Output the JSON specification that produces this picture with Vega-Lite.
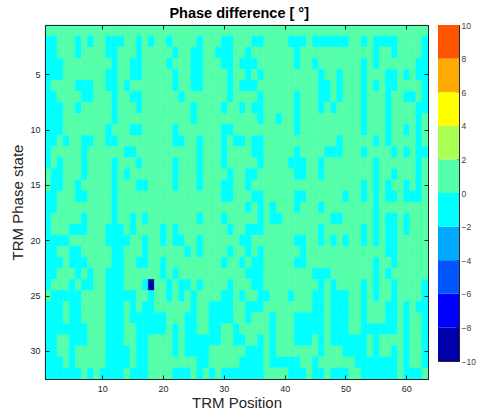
{
"$schema": "https://vega.github.io/schema/vega-lite/v6.json",
"background": "white",
"padding": {"left": 10, "top": 5, "right": 0, "bottom": 0},
"title": {"text": "Phase difference [ °]", "font": "Liberation Sans", "fontSize": 14.5, "fontWeight": "bold", "color": "#000000", "anchor": "middle", "offset": -0.5, "dx": -4},
"datasets": {
"bar": [{"lo":-10,"hi":-8,"v":-9},{"lo":-8,"hi":-6,"v":-7},{"lo":-6,"hi":-4,"v":-5},{"lo":-4,"hi":-2,"v":-3},{"lo":-2,"hi":0,"v":-1},{"lo":0,"hi":2,"v":1},{"lo":2,"hi":4,"v":3},{"lo":4,"hi":6,"v":5},{"lo":6,"hi":8,"v":7},{"lo":8,"hi":10,"v":9}],
"cells": [
{"x":1,"y":1,"v":1},{"x":2,"y":1,"v":1},{"x":3,"y":1,"v":1},{"x":4,"y":1,"v":1},{"x":5,"y":1,"v":1},{"x":6,"y":1,"v":1},{"x":7,"y":1,"v":1},{"x":8,"y":1,"v":1},{"x":9,"y":1,"v":1},{"x":10,"y":1,"v":1},{"x":11,"y":1,"v":1},{"x":12,"y":1,"v":1},{"x":13,"y":1,"v":1},{"x":14,"y":1,"v":1},{"x":15,"y":1,"v":1},{"x":16,"y":1,"v":1},{"x":17,"y":1,"v":1},{"x":18,"y":1,"v":1},{"x":19,"y":1,"v":1},{"x":20,"y":1,"v":1},{"x":21,"y":1,"v":1},{"x":22,"y":1,"v":1},{"x":23,"y":1,"v":1},{"x":24,"y":1,"v":1},{"x":25,"y":1,"v":1},{"x":26,"y":1,"v":1},{"x":27,"y":1,"v":1},{"x":28,"y":1,"v":1},{"x":29,"y":1,"v":1},{"x":30,"y":1,"v":1},{"x":31,"y":1,"v":1},{"x":32,"y":1,"v":1},{"x":33,"y":1,"v":1},{"x":34,"y":1,"v":1},{"x":35,"y":1,"v":1},{"x":36,"y":1,"v":1},{"x":37,"y":1,"v":1},{"x":38,"y":1,"v":1},{"x":39,"y":1,"v":1},{"x":40,"y":1,"v":1},{"x":41,"y":1,"v":1},{"x":42,"y":1,"v":1},{"x":43,"y":1,"v":1},{"x":44,"y":1,"v":1},{"x":45,"y":1,"v":1},{"x":46,"y":1,"v":1},{"x":47,"y":1,"v":1},{"x":48,"y":1,"v":1},{"x":49,"y":1,"v":1},{"x":50,"y":1,"v":1},{"x":51,"y":1,"v":1},{"x":52,"y":1,"v":1},{"x":53,"y":1,"v":1},{"x":54,"y":1,"v":1},{"x":55,"y":1,"v":1},{"x":56,"y":1,"v":1},{"x":57,"y":1,"v":1},{"x":58,"y":1,"v":1},{"x":59,"y":1,"v":1},{"x":60,"y":1,"v":1},{"x":61,"y":1,"v":1},{"x":62,"y":1,"v":1},{"x":63,"y":1,"v":1},
{"x":1,"y":2,"v":-1},{"x":2,"y":2,"v":-1},{"x":3,"y":2,"v":1},{"x":4,"y":2,"v":1},{"x":5,"y":2,"v":1},{"x":6,"y":2,"v":-1},{"x":7,"y":2,"v":1},{"x":8,"y":2,"v":-1},{"x":9,"y":2,"v":1},{"x":10,"y":2,"v":1},{"x":11,"y":2,"v":-1},{"x":12,"y":2,"v":-1},{"x":13,"y":2,"v":-1},{"x":14,"y":2,"v":1},{"x":15,"y":2,"v":1},{"x":16,"y":2,"v":-1},{"x":17,"y":2,"v":1},{"x":18,"y":2,"v":-1},{"x":19,"y":2,"v":1},{"x":20,"y":2,"v":1},{"x":21,"y":2,"v":-1},{"x":22,"y":2,"v":1},{"x":23,"y":2,"v":1},{"x":24,"y":2,"v":1},{"x":25,"y":2,"v":1},{"x":26,"y":2,"v":-1},{"x":27,"y":2,"v":1},{"x":28,"y":2,"v":1},{"x":29,"y":2,"v":1},{"x":30,"y":2,"v":-1},{"x":31,"y":2,"v":-1},{"x":32,"y":2,"v":1},{"x":33,"y":2,"v":1},{"x":34,"y":2,"v":1},{"x":35,"y":2,"v":-1},{"x":36,"y":2,"v":-1},{"x":37,"y":2,"v":1},{"x":38,"y":2,"v":1},{"x":39,"y":2,"v":1},{"x":40,"y":2,"v":1},{"x":41,"y":2,"v":-1},{"x":42,"y":2,"v":-1},{"x":43,"y":2,"v":-1},{"x":44,"y":2,"v":1},{"x":45,"y":2,"v":-1},{"x":46,"y":2,"v":-1},{"x":47,"y":2,"v":-1},{"x":48,"y":2,"v":-1},{"x":49,"y":2,"v":-1},{"x":50,"y":2,"v":-1},{"x":51,"y":2,"v":1},{"x":52,"y":2,"v":1},{"x":53,"y":2,"v":-1},{"x":54,"y":2,"v":1},{"x":55,"y":2,"v":-1},{"x":56,"y":2,"v":-1},{"x":57,"y":2,"v":-1},{"x":58,"y":2,"v":-1},{"x":59,"y":2,"v":1},{"x":60,"y":2,"v":1},{"x":61,"y":2,"v":1},{"x":62,"y":2,"v":1},{"x":63,"y":2,"v":-1},
{"x":1,"y":3,"v":-1},{"x":2,"y":3,"v":-1},{"x":3,"y":3,"v":1},{"x":4,"y":3,"v":1},{"x":5,"y":3,"v":1},{"x":6,"y":3,"v":-1},{"x":7,"y":3,"v":1},{"x":8,"y":3,"v":1},{"x":9,"y":3,"v":1},{"x":10,"y":3,"v":1},{"x":11,"y":3,"v":-1},{"x":12,"y":3,"v":-1},{"x":13,"y":3,"v":1},{"x":14,"y":3,"v":1},{"x":15,"y":3,"v":1},{"x":16,"y":3,"v":-1},{"x":17,"y":3,"v":1},{"x":18,"y":3,"v":1},{"x":19,"y":3,"v":1},{"x":20,"y":3,"v":1},{"x":21,"y":3,"v":1},{"x":22,"y":3,"v":-1},{"x":23,"y":3,"v":1},{"x":24,"y":3,"v":1},{"x":25,"y":3,"v":-1},{"x":26,"y":3,"v":-1},{"x":27,"y":3,"v":1},{"x":28,"y":3,"v":1},{"x":29,"y":3,"v":-1},{"x":30,"y":3,"v":-1},{"x":31,"y":3,"v":-1},{"x":32,"y":3,"v":1},{"x":33,"y":3,"v":1},{"x":34,"y":3,"v":-1},{"x":35,"y":3,"v":1},{"x":36,"y":3,"v":1},{"x":37,"y":3,"v":1},{"x":38,"y":3,"v":1},{"x":39,"y":3,"v":1},{"x":40,"y":3,"v":1},{"x":41,"y":3,"v":1},{"x":42,"y":3,"v":-1},{"x":43,"y":3,"v":1},{"x":44,"y":3,"v":1},{"x":45,"y":3,"v":1},{"x":46,"y":3,"v":1},{"x":47,"y":3,"v":1},{"x":48,"y":3,"v":1},{"x":49,"y":3,"v":1},{"x":50,"y":3,"v":1},{"x":51,"y":3,"v":1},{"x":52,"y":3,"v":1},{"x":53,"y":3,"v":1},{"x":54,"y":3,"v":1},{"x":55,"y":3,"v":-1},{"x":56,"y":3,"v":1},{"x":57,"y":3,"v":1},{"x":58,"y":3,"v":-1},{"x":59,"y":3,"v":1},{"x":60,"y":3,"v":1},{"x":61,"y":3,"v":1},{"x":62,"y":3,"v":1},{"x":63,"y":3,"v":-1},
{"x":1,"y":4,"v":-1},{"x":2,"y":4,"v":-1},{"x":3,"y":4,"v":-1},{"x":4,"y":4,"v":1},{"x":5,"y":4,"v":1},{"x":6,"y":4,"v":1},{"x":7,"y":4,"v":1},{"x":8,"y":4,"v":1},{"x":9,"y":4,"v":1},{"x":10,"y":4,"v":1},{"x":11,"y":4,"v":1},{"x":12,"y":4,"v":-1},{"x":13,"y":4,"v":1},{"x":14,"y":4,"v":1},{"x":15,"y":4,"v":-1},{"x":16,"y":4,"v":-1},{"x":17,"y":4,"v":1},{"x":18,"y":4,"v":1},{"x":19,"y":4,"v":1},{"x":20,"y":4,"v":1},{"x":21,"y":4,"v":-1},{"x":22,"y":4,"v":1},{"x":23,"y":4,"v":1},{"x":24,"y":4,"v":1},{"x":25,"y":4,"v":-1},{"x":26,"y":4,"v":-1},{"x":27,"y":4,"v":1},{"x":28,"y":4,"v":1},{"x":29,"y":4,"v":1},{"x":30,"y":4,"v":-1},{"x":31,"y":4,"v":-1},{"x":32,"y":4,"v":1},{"x":33,"y":4,"v":-1},{"x":34,"y":4,"v":-1},{"x":35,"y":4,"v":-1},{"x":36,"y":4,"v":1},{"x":37,"y":4,"v":1},{"x":38,"y":4,"v":1},{"x":39,"y":4,"v":1},{"x":40,"y":4,"v":1},{"x":41,"y":4,"v":1},{"x":42,"y":4,"v":-1},{"x":43,"y":4,"v":1},{"x":44,"y":4,"v":1},{"x":45,"y":4,"v":-1},{"x":46,"y":4,"v":1},{"x":47,"y":4,"v":1},{"x":48,"y":4,"v":1},{"x":49,"y":4,"v":1},{"x":50,"y":4,"v":1},{"x":51,"y":4,"v":1},{"x":52,"y":4,"v":1},{"x":53,"y":4,"v":-1},{"x":54,"y":4,"v":1},{"x":55,"y":4,"v":-1},{"x":56,"y":4,"v":1},{"x":57,"y":4,"v":1},{"x":58,"y":4,"v":1},{"x":59,"y":4,"v":1},{"x":60,"y":4,"v":1},{"x":61,"y":4,"v":1},{"x":62,"y":4,"v":-1},{"x":63,"y":4,"v":-1},
{"x":1,"y":5,"v":-1},{"x":2,"y":5,"v":-1},{"x":3,"y":5,"v":-1},{"x":4,"y":5,"v":1},{"x":5,"y":5,"v":1},{"x":6,"y":5,"v":1},{"x":7,"y":5,"v":1},{"x":8,"y":5,"v":1},{"x":9,"y":5,"v":1},{"x":10,"y":5,"v":1},{"x":11,"y":5,"v":-1},{"x":12,"y":5,"v":-1},{"x":13,"y":5,"v":1},{"x":14,"y":5,"v":1},{"x":15,"y":5,"v":-1},{"x":16,"y":5,"v":-1},{"x":17,"y":5,"v":1},{"x":18,"y":5,"v":1},{"x":19,"y":5,"v":1},{"x":20,"y":5,"v":1},{"x":21,"y":5,"v":1},{"x":22,"y":5,"v":-1},{"x":23,"y":5,"v":1},{"x":24,"y":5,"v":1},{"x":25,"y":5,"v":-1},{"x":26,"y":5,"v":-1},{"x":27,"y":5,"v":1},{"x":28,"y":5,"v":1},{"x":29,"y":5,"v":1},{"x":30,"y":5,"v":1},{"x":31,"y":5,"v":-1},{"x":32,"y":5,"v":1},{"x":33,"y":5,"v":1},{"x":34,"y":5,"v":-1},{"x":35,"y":5,"v":1},{"x":36,"y":5,"v":-1},{"x":37,"y":5,"v":1},{"x":38,"y":5,"v":1},{"x":39,"y":5,"v":1},{"x":40,"y":5,"v":1},{"x":41,"y":5,"v":1},{"x":42,"y":5,"v":1},{"x":43,"y":5,"v":1},{"x":44,"y":5,"v":1},{"x":45,"y":5,"v":1},{"x":46,"y":5,"v":-1},{"x":47,"y":5,"v":1},{"x":48,"y":5,"v":1},{"x":49,"y":5,"v":-1},{"x":50,"y":5,"v":1},{"x":51,"y":5,"v":1},{"x":52,"y":5,"v":1},{"x":53,"y":5,"v":-1},{"x":54,"y":5,"v":1},{"x":55,"y":5,"v":1},{"x":56,"y":5,"v":1},{"x":57,"y":5,"v":-1},{"x":58,"y":5,"v":-1},{"x":59,"y":5,"v":1},{"x":60,"y":5,"v":-1},{"x":61,"y":5,"v":1},{"x":62,"y":5,"v":-1},{"x":63,"y":5,"v":-1},
{"x":1,"y":6,"v":-1},{"x":2,"y":6,"v":1},{"x":3,"y":6,"v":1},{"x":4,"y":6,"v":1},{"x":5,"y":6,"v":1},{"x":6,"y":6,"v":-1},{"x":7,"y":6,"v":-1},{"x":8,"y":6,"v":-1},{"x":9,"y":6,"v":1},{"x":10,"y":6,"v":1},{"x":11,"y":6,"v":-1},{"x":12,"y":6,"v":-1},{"x":13,"y":6,"v":1},{"x":14,"y":6,"v":-1},{"x":15,"y":6,"v":1},{"x":16,"y":6,"v":1},{"x":17,"y":6,"v":1},{"x":18,"y":6,"v":1},{"x":19,"y":6,"v":1},{"x":20,"y":6,"v":1},{"x":21,"y":6,"v":1},{"x":22,"y":6,"v":-1},{"x":23,"y":6,"v":1},{"x":24,"y":6,"v":1},{"x":25,"y":6,"v":-1},{"x":26,"y":6,"v":-1},{"x":27,"y":6,"v":1},{"x":28,"y":6,"v":1},{"x":29,"y":6,"v":1},{"x":30,"y":6,"v":1},{"x":31,"y":6,"v":-1},{"x":32,"y":6,"v":1},{"x":33,"y":6,"v":-1},{"x":34,"y":6,"v":-1},{"x":35,"y":6,"v":-1},{"x":36,"y":6,"v":1},{"x":37,"y":6,"v":1},{"x":38,"y":6,"v":1},{"x":39,"y":6,"v":1},{"x":40,"y":6,"v":1},{"x":41,"y":6,"v":1},{"x":42,"y":6,"v":1},{"x":43,"y":6,"v":1},{"x":44,"y":6,"v":1},{"x":45,"y":6,"v":1},{"x":46,"y":6,"v":-1},{"x":47,"y":6,"v":-1},{"x":48,"y":6,"v":1},{"x":49,"y":6,"v":-1},{"x":50,"y":6,"v":1},{"x":51,"y":6,"v":1},{"x":52,"y":6,"v":1},{"x":53,"y":6,"v":-1},{"x":54,"y":6,"v":1},{"x":55,"y":6,"v":-1},{"x":56,"y":6,"v":1},{"x":57,"y":6,"v":-1},{"x":58,"y":6,"v":-1},{"x":59,"y":6,"v":1},{"x":60,"y":6,"v":1},{"x":61,"y":6,"v":1},{"x":62,"y":6,"v":1},{"x":63,"y":6,"v":-1},
{"x":1,"y":7,"v":-1},{"x":2,"y":7,"v":-1},{"x":3,"y":7,"v":1},{"x":4,"y":7,"v":1},{"x":5,"y":7,"v":1},{"x":6,"y":7,"v":1},{"x":7,"y":7,"v":-1},{"x":8,"y":7,"v":-1},{"x":9,"y":7,"v":1},{"x":10,"y":7,"v":1},{"x":11,"y":7,"v":1},{"x":12,"y":7,"v":-1},{"x":13,"y":7,"v":1},{"x":14,"y":7,"v":1},{"x":15,"y":7,"v":-1},{"x":16,"y":7,"v":-1},{"x":17,"y":7,"v":1},{"x":18,"y":7,"v":1},{"x":19,"y":7,"v":1},{"x":20,"y":7,"v":1},{"x":21,"y":7,"v":1},{"x":22,"y":7,"v":1},{"x":23,"y":7,"v":-1},{"x":24,"y":7,"v":1},{"x":25,"y":7,"v":1},{"x":26,"y":7,"v":1},{"x":27,"y":7,"v":1},{"x":28,"y":7,"v":1},{"x":29,"y":7,"v":1},{"x":30,"y":7,"v":1},{"x":31,"y":7,"v":-1},{"x":32,"y":7,"v":1},{"x":33,"y":7,"v":1},{"x":34,"y":7,"v":1},{"x":35,"y":7,"v":1},{"x":36,"y":7,"v":-1},{"x":37,"y":7,"v":1},{"x":38,"y":7,"v":1},{"x":39,"y":7,"v":1},{"x":40,"y":7,"v":1},{"x":41,"y":7,"v":1},{"x":42,"y":7,"v":-1},{"x":43,"y":7,"v":1},{"x":44,"y":7,"v":1},{"x":45,"y":7,"v":1},{"x":46,"y":7,"v":-1},{"x":47,"y":7,"v":-1},{"x":48,"y":7,"v":1},{"x":49,"y":7,"v":-1},{"x":50,"y":7,"v":1},{"x":51,"y":7,"v":1},{"x":52,"y":7,"v":1},{"x":53,"y":7,"v":-1},{"x":54,"y":7,"v":1},{"x":55,"y":7,"v":1},{"x":56,"y":7,"v":1},{"x":57,"y":7,"v":-1},{"x":58,"y":7,"v":1},{"x":59,"y":7,"v":1},{"x":60,"y":7,"v":-1},{"x":61,"y":7,"v":-1},{"x":62,"y":7,"v":1},{"x":63,"y":7,"v":-1},
{"x":1,"y":8,"v":-1},{"x":2,"y":8,"v":-1},{"x":3,"y":8,"v":-1},{"x":4,"y":8,"v":1},{"x":5,"y":8,"v":1},{"x":6,"y":8,"v":-1},{"x":7,"y":8,"v":1},{"x":8,"y":8,"v":1},{"x":9,"y":8,"v":1},{"x":10,"y":8,"v":1},{"x":11,"y":8,"v":1},{"x":12,"y":8,"v":-1},{"x":13,"y":8,"v":1},{"x":14,"y":8,"v":1},{"x":15,"y":8,"v":1},{"x":16,"y":8,"v":-1},{"x":17,"y":8,"v":1},{"x":18,"y":8,"v":1},{"x":19,"y":8,"v":1},{"x":20,"y":8,"v":1},{"x":21,"y":8,"v":1},{"x":22,"y":8,"v":1},{"x":23,"y":8,"v":1},{"x":24,"y":8,"v":1},{"x":25,"y":8,"v":-1},{"x":26,"y":8,"v":1},{"x":27,"y":8,"v":1},{"x":28,"y":8,"v":1},{"x":29,"y":8,"v":1},{"x":30,"y":8,"v":-1},{"x":31,"y":8,"v":1},{"x":32,"y":8,"v":1},{"x":33,"y":8,"v":-1},{"x":34,"y":8,"v":1},{"x":35,"y":8,"v":-1},{"x":36,"y":8,"v":-1},{"x":37,"y":8,"v":1},{"x":38,"y":8,"v":1},{"x":39,"y":8,"v":1},{"x":40,"y":8,"v":1},{"x":41,"y":8,"v":1},{"x":42,"y":8,"v":-1},{"x":43,"y":8,"v":1},{"x":44,"y":8,"v":1},{"x":45,"y":8,"v":1},{"x":46,"y":8,"v":-1},{"x":47,"y":8,"v":1},{"x":48,"y":8,"v":-1},{"x":49,"y":8,"v":1},{"x":50,"y":8,"v":1},{"x":51,"y":8,"v":1},{"x":52,"y":8,"v":1},{"x":53,"y":8,"v":-1},{"x":54,"y":8,"v":1},{"x":55,"y":8,"v":1},{"x":56,"y":8,"v":1},{"x":57,"y":8,"v":-1},{"x":58,"y":8,"v":1},{"x":59,"y":8,"v":1},{"x":60,"y":8,"v":1},{"x":61,"y":8,"v":1},{"x":62,"y":8,"v":-1},{"x":63,"y":8,"v":-1},
{"x":1,"y":9,"v":-1},{"x":2,"y":9,"v":-1},{"x":3,"y":9,"v":-1},{"x":4,"y":9,"v":1},{"x":5,"y":9,"v":1},{"x":6,"y":9,"v":1},{"x":7,"y":9,"v":1},{"x":8,"y":9,"v":1},{"x":9,"y":9,"v":1},{"x":10,"y":9,"v":1},{"x":11,"y":9,"v":1},{"x":12,"y":9,"v":-1},{"x":13,"y":9,"v":1},{"x":14,"y":9,"v":1},{"x":15,"y":9,"v":1},{"x":16,"y":9,"v":1},{"x":17,"y":9,"v":1},{"x":18,"y":9,"v":1},{"x":19,"y":9,"v":1},{"x":20,"y":9,"v":1},{"x":21,"y":9,"v":1},{"x":22,"y":9,"v":1},{"x":23,"y":9,"v":1},{"x":24,"y":9,"v":1},{"x":25,"y":9,"v":-1},{"x":26,"y":9,"v":1},{"x":27,"y":9,"v":1},{"x":28,"y":9,"v":1},{"x":29,"y":9,"v":1},{"x":30,"y":9,"v":1},{"x":31,"y":9,"v":1},{"x":32,"y":9,"v":1},{"x":33,"y":9,"v":1},{"x":34,"y":9,"v":1},{"x":35,"y":9,"v":1},{"x":36,"y":9,"v":-1},{"x":37,"y":9,"v":1},{"x":38,"y":9,"v":1},{"x":39,"y":9,"v":-1},{"x":40,"y":9,"v":1},{"x":41,"y":9,"v":1},{"x":42,"y":9,"v":-1},{"x":43,"y":9,"v":1},{"x":44,"y":9,"v":1},{"x":45,"y":9,"v":1},{"x":46,"y":9,"v":1},{"x":47,"y":9,"v":1},{"x":48,"y":9,"v":1},{"x":49,"y":9,"v":1},{"x":50,"y":9,"v":1},{"x":51,"y":9,"v":1},{"x":52,"y":9,"v":1},{"x":53,"y":9,"v":-1},{"x":54,"y":9,"v":1},{"x":55,"y":9,"v":1},{"x":56,"y":9,"v":1},{"x":57,"y":9,"v":-1},{"x":58,"y":9,"v":1},{"x":59,"y":9,"v":1},{"x":60,"y":9,"v":1},{"x":61,"y":9,"v":1},{"x":62,"y":9,"v":-1},{"x":63,"y":9,"v":1},
{"x":1,"y":10,"v":-1},{"x":2,"y":10,"v":-1},{"x":3,"y":10,"v":-1},{"x":4,"y":10,"v":1},{"x":5,"y":10,"v":1},{"x":6,"y":10,"v":1},{"x":7,"y":10,"v":1},{"x":8,"y":10,"v":1},{"x":9,"y":10,"v":1},{"x":10,"y":10,"v":1},{"x":11,"y":10,"v":-1},{"x":12,"y":10,"v":1},{"x":13,"y":10,"v":1},{"x":14,"y":10,"v":1},{"x":15,"y":10,"v":-1},{"x":16,"y":10,"v":-1},{"x":17,"y":10,"v":1},{"x":18,"y":10,"v":1},{"x":19,"y":10,"v":1},{"x":20,"y":10,"v":1},{"x":21,"y":10,"v":1},{"x":22,"y":10,"v":-1},{"x":23,"y":10,"v":1},{"x":24,"y":10,"v":1},{"x":25,"y":10,"v":1},{"x":26,"y":10,"v":1},{"x":27,"y":10,"v":1},{"x":28,"y":10,"v":1},{"x":29,"y":10,"v":1},{"x":30,"y":10,"v":-1},{"x":31,"y":10,"v":-1},{"x":32,"y":10,"v":1},{"x":33,"y":10,"v":1},{"x":34,"y":10,"v":1},{"x":35,"y":10,"v":1},{"x":36,"y":10,"v":1},{"x":37,"y":10,"v":1},{"x":38,"y":10,"v":1},{"x":39,"y":10,"v":1},{"x":40,"y":10,"v":1},{"x":41,"y":10,"v":1},{"x":42,"y":10,"v":-1},{"x":43,"y":10,"v":1},{"x":44,"y":10,"v":1},{"x":45,"y":10,"v":1},{"x":46,"y":10,"v":1},{"x":47,"y":10,"v":1},{"x":48,"y":10,"v":1},{"x":49,"y":10,"v":1},{"x":50,"y":10,"v":1},{"x":51,"y":10,"v":1},{"x":52,"y":10,"v":1},{"x":53,"y":10,"v":-1},{"x":54,"y":10,"v":1},{"x":55,"y":10,"v":1},{"x":56,"y":10,"v":1},{"x":57,"y":10,"v":-1},{"x":58,"y":10,"v":1},{"x":59,"y":10,"v":1},{"x":60,"y":10,"v":-1},{"x":61,"y":10,"v":1},{"x":62,"y":10,"v":-1},{"x":63,"y":10,"v":1},
{"x":1,"y":11,"v":-1},{"x":2,"y":11,"v":-1},{"x":3,"y":11,"v":1},{"x":4,"y":11,"v":-1},{"x":5,"y":11,"v":1},{"x":6,"y":11,"v":1},{"x":7,"y":11,"v":-1},{"x":8,"y":11,"v":-1},{"x":9,"y":11,"v":1},{"x":10,"y":11,"v":1},{"x":11,"y":11,"v":-1},{"x":12,"y":11,"v":-1},{"x":13,"y":11,"v":1},{"x":14,"y":11,"v":1},{"x":15,"y":11,"v":1},{"x":16,"y":11,"v":1},{"x":17,"y":11,"v":1},{"x":18,"y":11,"v":1},{"x":19,"y":11,"v":1},{"x":20,"y":11,"v":1},{"x":21,"y":11,"v":1},{"x":22,"y":11,"v":-1},{"x":23,"y":11,"v":-1},{"x":24,"y":11,"v":1},{"x":25,"y":11,"v":1},{"x":26,"y":11,"v":-1},{"x":27,"y":11,"v":1},{"x":28,"y":11,"v":1},{"x":29,"y":11,"v":1},{"x":30,"y":11,"v":-1},{"x":31,"y":11,"v":1},{"x":32,"y":11,"v":-1},{"x":33,"y":11,"v":-1},{"x":34,"y":11,"v":1},{"x":35,"y":11,"v":-1},{"x":36,"y":11,"v":-1},{"x":37,"y":11,"v":1},{"x":38,"y":11,"v":1},{"x":39,"y":11,"v":1},{"x":40,"y":11,"v":1},{"x":41,"y":11,"v":1},{"x":42,"y":11,"v":1},{"x":43,"y":11,"v":1},{"x":44,"y":11,"v":1},{"x":45,"y":11,"v":1},{"x":46,"y":11,"v":1},{"x":47,"y":11,"v":1},{"x":48,"y":11,"v":1},{"x":49,"y":11,"v":-1},{"x":50,"y":11,"v":1},{"x":51,"y":11,"v":1},{"x":52,"y":11,"v":1},{"x":53,"y":11,"v":1},{"x":54,"y":11,"v":1},{"x":55,"y":11,"v":-1},{"x":56,"y":11,"v":1},{"x":57,"y":11,"v":-1},{"x":58,"y":11,"v":1},{"x":59,"y":11,"v":1},{"x":60,"y":11,"v":1},{"x":61,"y":11,"v":1},{"x":62,"y":11,"v":-1},{"x":63,"y":11,"v":1},
{"x":1,"y":12,"v":-1},{"x":2,"y":12,"v":1},{"x":3,"y":12,"v":1},{"x":4,"y":12,"v":1},{"x":5,"y":12,"v":1},{"x":6,"y":12,"v":1},{"x":7,"y":12,"v":-1},{"x":8,"y":12,"v":1},{"x":9,"y":12,"v":1},{"x":10,"y":12,"v":1},{"x":11,"y":12,"v":1},{"x":12,"y":12,"v":1},{"x":13,"y":12,"v":1},{"x":14,"y":12,"v":-1},{"x":15,"y":12,"v":-1},{"x":16,"y":12,"v":1},{"x":17,"y":12,"v":1},{"x":18,"y":12,"v":1},{"x":19,"y":12,"v":1},{"x":20,"y":12,"v":1},{"x":21,"y":12,"v":1},{"x":22,"y":12,"v":1},{"x":23,"y":12,"v":1},{"x":24,"y":12,"v":1},{"x":25,"y":12,"v":1},{"x":26,"y":12,"v":-1},{"x":27,"y":12,"v":1},{"x":28,"y":12,"v":1},{"x":29,"y":12,"v":1},{"x":30,"y":12,"v":-1},{"x":31,"y":12,"v":1},{"x":32,"y":12,"v":1},{"x":33,"y":12,"v":1},{"x":34,"y":12,"v":1},{"x":35,"y":12,"v":-1},{"x":36,"y":12,"v":-1},{"x":37,"y":12,"v":1},{"x":38,"y":12,"v":1},{"x":39,"y":12,"v":1},{"x":40,"y":12,"v":1},{"x":41,"y":12,"v":1},{"x":42,"y":12,"v":-1},{"x":43,"y":12,"v":1},{"x":44,"y":12,"v":1},{"x":45,"y":12,"v":1},{"x":46,"y":12,"v":1},{"x":47,"y":12,"v":-1},{"x":48,"y":12,"v":-1},{"x":49,"y":12,"v":-1},{"x":50,"y":12,"v":1},{"x":51,"y":12,"v":1},{"x":52,"y":12,"v":1},{"x":53,"y":12,"v":-1},{"x":54,"y":12,"v":1},{"x":55,"y":12,"v":1},{"x":56,"y":12,"v":1},{"x":57,"y":12,"v":1},{"x":58,"y":12,"v":-1},{"x":59,"y":12,"v":1},{"x":60,"y":12,"v":-1},{"x":61,"y":12,"v":1},{"x":62,"y":12,"v":-1},{"x":63,"y":12,"v":-1},
{"x":1,"y":13,"v":-1},{"x":2,"y":13,"v":1},{"x":3,"y":13,"v":-1},{"x":4,"y":13,"v":1},{"x":5,"y":13,"v":1},{"x":6,"y":13,"v":1},{"x":7,"y":13,"v":-1},{"x":8,"y":13,"v":1},{"x":9,"y":13,"v":1},{"x":10,"y":13,"v":1},{"x":11,"y":13,"v":1},{"x":12,"y":13,"v":-1},{"x":13,"y":13,"v":1},{"x":14,"y":13,"v":1},{"x":15,"y":13,"v":1},{"x":16,"y":13,"v":-1},{"x":17,"y":13,"v":1},{"x":18,"y":13,"v":1},{"x":19,"y":13,"v":1},{"x":20,"y":13,"v":1},{"x":21,"y":13,"v":1},{"x":22,"y":13,"v":-1},{"x":23,"y":13,"v":1},{"x":24,"y":13,"v":1},{"x":25,"y":13,"v":1},{"x":26,"y":13,"v":-1},{"x":27,"y":13,"v":1},{"x":28,"y":13,"v":1},{"x":29,"y":13,"v":1},{"x":30,"y":13,"v":-1},{"x":31,"y":13,"v":1},{"x":32,"y":13,"v":1},{"x":33,"y":13,"v":1},{"x":34,"y":13,"v":1},{"x":35,"y":13,"v":1},{"x":36,"y":13,"v":-1},{"x":37,"y":13,"v":1},{"x":38,"y":13,"v":1},{"x":39,"y":13,"v":1},{"x":40,"y":13,"v":1},{"x":41,"y":13,"v":-1},{"x":42,"y":13,"v":-1},{"x":43,"y":13,"v":-1},{"x":44,"y":13,"v":1},{"x":45,"y":13,"v":1},{"x":46,"y":13,"v":-1},{"x":47,"y":13,"v":1},{"x":48,"y":13,"v":1},{"x":49,"y":13,"v":1},{"x":50,"y":13,"v":1},{"x":51,"y":13,"v":1},{"x":52,"y":13,"v":1},{"x":53,"y":13,"v":1},{"x":54,"y":13,"v":1},{"x":55,"y":13,"v":-1},{"x":56,"y":13,"v":1},{"x":57,"y":13,"v":1},{"x":58,"y":13,"v":1},{"x":59,"y":13,"v":1},{"x":60,"y":13,"v":1},{"x":61,"y":13,"v":1},{"x":62,"y":13,"v":-1},{"x":63,"y":13,"v":1},
{"x":1,"y":14,"v":1},{"x":2,"y":14,"v":-1},{"x":3,"y":14,"v":-1},{"x":4,"y":14,"v":1},{"x":5,"y":14,"v":1},{"x":6,"y":14,"v":1},{"x":7,"y":14,"v":-1},{"x":8,"y":14,"v":1},{"x":9,"y":14,"v":1},{"x":10,"y":14,"v":1},{"x":11,"y":14,"v":1},{"x":12,"y":14,"v":-1},{"x":13,"y":14,"v":1},{"x":14,"y":14,"v":-1},{"x":15,"y":14,"v":1},{"x":16,"y":14,"v":1},{"x":17,"y":14,"v":1},{"x":18,"y":14,"v":1},{"x":19,"y":14,"v":1},{"x":20,"y":14,"v":1},{"x":21,"y":14,"v":1},{"x":22,"y":14,"v":-1},{"x":23,"y":14,"v":1},{"x":24,"y":14,"v":1},{"x":25,"y":14,"v":1},{"x":26,"y":14,"v":-1},{"x":27,"y":14,"v":1},{"x":28,"y":14,"v":1},{"x":29,"y":14,"v":1},{"x":30,"y":14,"v":1},{"x":31,"y":14,"v":-1},{"x":32,"y":14,"v":1},{"x":33,"y":14,"v":1},{"x":34,"y":14,"v":-1},{"x":35,"y":14,"v":-1},{"x":36,"y":14,"v":1},{"x":37,"y":14,"v":1},{"x":38,"y":14,"v":1},{"x":39,"y":14,"v":1},{"x":40,"y":14,"v":1},{"x":41,"y":14,"v":1},{"x":42,"y":14,"v":-1},{"x":43,"y":14,"v":-1},{"x":44,"y":14,"v":1},{"x":45,"y":14,"v":1},{"x":46,"y":14,"v":-1},{"x":47,"y":14,"v":1},{"x":48,"y":14,"v":1},{"x":49,"y":14,"v":1},{"x":50,"y":14,"v":1},{"x":51,"y":14,"v":1},{"x":52,"y":14,"v":1},{"x":53,"y":14,"v":1},{"x":54,"y":14,"v":1},{"x":55,"y":14,"v":-1},{"x":56,"y":14,"v":1},{"x":57,"y":14,"v":1},{"x":58,"y":14,"v":-1},{"x":59,"y":14,"v":1},{"x":60,"y":14,"v":1},{"x":61,"y":14,"v":1},{"x":62,"y":14,"v":-1},{"x":63,"y":14,"v":1},
{"x":1,"y":15,"v":1},{"x":2,"y":15,"v":-1},{"x":3,"y":15,"v":-1},{"x":4,"y":15,"v":1},{"x":5,"y":15,"v":1},{"x":6,"y":15,"v":-1},{"x":7,"y":15,"v":1},{"x":8,"y":15,"v":1},{"x":9,"y":15,"v":1},{"x":10,"y":15,"v":1},{"x":11,"y":15,"v":1},{"x":12,"y":15,"v":-1},{"x":13,"y":15,"v":1},{"x":14,"y":15,"v":1},{"x":15,"y":15,"v":1},{"x":16,"y":15,"v":-1},{"x":17,"y":15,"v":-1},{"x":18,"y":15,"v":1},{"x":19,"y":15,"v":1},{"x":20,"y":15,"v":1},{"x":21,"y":15,"v":1},{"x":22,"y":15,"v":-1},{"x":23,"y":15,"v":1},{"x":24,"y":15,"v":1},{"x":25,"y":15,"v":1},{"x":26,"y":15,"v":-1},{"x":27,"y":15,"v":1},{"x":28,"y":15,"v":1},{"x":29,"y":15,"v":1},{"x":30,"y":15,"v":-1},{"x":31,"y":15,"v":-1},{"x":32,"y":15,"v":1},{"x":33,"y":15,"v":1},{"x":34,"y":15,"v":-1},{"x":35,"y":15,"v":1},{"x":36,"y":15,"v":1},{"x":37,"y":15,"v":1},{"x":38,"y":15,"v":1},{"x":39,"y":15,"v":1},{"x":40,"y":15,"v":1},{"x":41,"y":15,"v":1},{"x":42,"y":15,"v":1},{"x":43,"y":15,"v":1},{"x":44,"y":15,"v":1},{"x":45,"y":15,"v":1},{"x":46,"y":15,"v":1},{"x":47,"y":15,"v":1},{"x":48,"y":15,"v":1},{"x":49,"y":15,"v":1},{"x":50,"y":15,"v":1},{"x":51,"y":15,"v":1},{"x":52,"y":15,"v":1},{"x":53,"y":15,"v":-1},{"x":54,"y":15,"v":1},{"x":55,"y":15,"v":-1},{"x":56,"y":15,"v":1},{"x":57,"y":15,"v":-1},{"x":58,"y":15,"v":1},{"x":59,"y":15,"v":1},{"x":60,"y":15,"v":-1},{"x":61,"y":15,"v":1},{"x":62,"y":15,"v":-1},{"x":63,"y":15,"v":1},
{"x":1,"y":16,"v":-1},{"x":2,"y":16,"v":-1},{"x":3,"y":16,"v":1},{"x":4,"y":16,"v":1},{"x":5,"y":16,"v":1},{"x":6,"y":16,"v":-1},{"x":7,"y":16,"v":-1},{"x":8,"y":16,"v":1},{"x":9,"y":16,"v":1},{"x":10,"y":16,"v":1},{"x":11,"y":16,"v":1},{"x":12,"y":16,"v":-1},{"x":13,"y":16,"v":1},{"x":14,"y":16,"v":1},{"x":15,"y":16,"v":1},{"x":16,"y":16,"v":1},{"x":17,"y":16,"v":1},{"x":18,"y":16,"v":1},{"x":19,"y":16,"v":1},{"x":20,"y":16,"v":1},{"x":21,"y":16,"v":1},{"x":22,"y":16,"v":1},{"x":23,"y":16,"v":1},{"x":24,"y":16,"v":1},{"x":25,"y":16,"v":1},{"x":26,"y":16,"v":1},{"x":27,"y":16,"v":1},{"x":28,"y":16,"v":1},{"x":29,"y":16,"v":1},{"x":30,"y":16,"v":-1},{"x":31,"y":16,"v":-1},{"x":32,"y":16,"v":1},{"x":33,"y":16,"v":1},{"x":34,"y":16,"v":1},{"x":35,"y":16,"v":-1},{"x":36,"y":16,"v":-1},{"x":37,"y":16,"v":1},{"x":38,"y":16,"v":1},{"x":39,"y":16,"v":1},{"x":40,"y":16,"v":1},{"x":41,"y":16,"v":1},{"x":42,"y":16,"v":-1},{"x":43,"y":16,"v":-1},{"x":44,"y":16,"v":1},{"x":45,"y":16,"v":1},{"x":46,"y":16,"v":1},{"x":47,"y":16,"v":1},{"x":48,"y":16,"v":1},{"x":49,"y":16,"v":1},{"x":50,"y":16,"v":-1},{"x":51,"y":16,"v":1},{"x":52,"y":16,"v":1},{"x":53,"y":16,"v":-1},{"x":54,"y":16,"v":1},{"x":55,"y":16,"v":-1},{"x":56,"y":16,"v":1},{"x":57,"y":16,"v":-1},{"x":58,"y":16,"v":-1},{"x":59,"y":16,"v":1},{"x":60,"y":16,"v":-1},{"x":61,"y":16,"v":-1},{"x":62,"y":16,"v":-1},{"x":63,"y":16,"v":1},
{"x":1,"y":17,"v":-1},{"x":2,"y":17,"v":-1},{"x":3,"y":17,"v":1},{"x":4,"y":17,"v":1},{"x":5,"y":17,"v":1},{"x":6,"y":17,"v":1},{"x":7,"y":17,"v":1},{"x":8,"y":17,"v":1},{"x":9,"y":17,"v":1},{"x":10,"y":17,"v":1},{"x":11,"y":17,"v":1},{"x":12,"y":17,"v":-1},{"x":13,"y":17,"v":1},{"x":14,"y":17,"v":1},{"x":15,"y":17,"v":1},{"x":16,"y":17,"v":1},{"x":17,"y":17,"v":1},{"x":18,"y":17,"v":1},{"x":19,"y":17,"v":1},{"x":20,"y":17,"v":1},{"x":21,"y":17,"v":1},{"x":22,"y":17,"v":1},{"x":23,"y":17,"v":1},{"x":24,"y":17,"v":1},{"x":25,"y":17,"v":1},{"x":26,"y":17,"v":1},{"x":27,"y":17,"v":1},{"x":28,"y":17,"v":1},{"x":29,"y":17,"v":1},{"x":30,"y":17,"v":1},{"x":31,"y":17,"v":1},{"x":32,"y":17,"v":1},{"x":33,"y":17,"v":1},{"x":34,"y":17,"v":-1},{"x":35,"y":17,"v":1},{"x":36,"y":17,"v":-1},{"x":37,"y":17,"v":1},{"x":38,"y":17,"v":-1},{"x":39,"y":17,"v":1},{"x":40,"y":17,"v":1},{"x":41,"y":17,"v":1},{"x":42,"y":17,"v":-1},{"x":43,"y":17,"v":1},{"x":44,"y":17,"v":1},{"x":45,"y":17,"v":1},{"x":46,"y":17,"v":-1},{"x":47,"y":17,"v":1},{"x":48,"y":17,"v":1},{"x":49,"y":17,"v":1},{"x":50,"y":17,"v":1},{"x":51,"y":17,"v":1},{"x":52,"y":17,"v":1},{"x":53,"y":17,"v":1},{"x":54,"y":17,"v":1},{"x":55,"y":17,"v":-1},{"x":56,"y":17,"v":1},{"x":57,"y":17,"v":1},{"x":58,"y":17,"v":1},{"x":59,"y":17,"v":1},{"x":60,"y":17,"v":1},{"x":61,"y":17,"v":1},{"x":62,"y":17,"v":1},{"x":63,"y":17,"v":1},
{"x":1,"y":18,"v":-1},{"x":2,"y":18,"v":1},{"x":3,"y":18,"v":1},{"x":4,"y":18,"v":1},{"x":5,"y":18,"v":1},{"x":6,"y":18,"v":1},{"x":7,"y":18,"v":-1},{"x":8,"y":18,"v":1},{"x":9,"y":18,"v":1},{"x":10,"y":18,"v":1},{"x":11,"y":18,"v":1},{"x":12,"y":18,"v":-1},{"x":13,"y":18,"v":1},{"x":14,"y":18,"v":1},{"x":15,"y":18,"v":-1},{"x":16,"y":18,"v":1},{"x":17,"y":18,"v":-1},{"x":18,"y":18,"v":1},{"x":19,"y":18,"v":1},{"x":20,"y":18,"v":1},{"x":21,"y":18,"v":1},{"x":22,"y":18,"v":1},{"x":23,"y":18,"v":1},{"x":24,"y":18,"v":1},{"x":25,"y":18,"v":1},{"x":26,"y":18,"v":-1},{"x":27,"y":18,"v":1},{"x":28,"y":18,"v":1},{"x":29,"y":18,"v":1},{"x":30,"y":18,"v":-1},{"x":31,"y":18,"v":1},{"x":32,"y":18,"v":1},{"x":33,"y":18,"v":1},{"x":34,"y":18,"v":1},{"x":35,"y":18,"v":1},{"x":36,"y":18,"v":-1},{"x":37,"y":18,"v":1},{"x":38,"y":18,"v":-1},{"x":39,"y":18,"v":-1},{"x":40,"y":18,"v":1},{"x":41,"y":18,"v":1},{"x":42,"y":18,"v":1},{"x":43,"y":18,"v":1},{"x":44,"y":18,"v":1},{"x":45,"y":18,"v":1},{"x":46,"y":18,"v":1},{"x":47,"y":18,"v":1},{"x":48,"y":18,"v":-1},{"x":49,"y":18,"v":-1},{"x":50,"y":18,"v":1},{"x":51,"y":18,"v":1},{"x":52,"y":18,"v":1},{"x":53,"y":18,"v":1},{"x":54,"y":18,"v":1},{"x":55,"y":18,"v":-1},{"x":56,"y":18,"v":1},{"x":57,"y":18,"v":-1},{"x":58,"y":18,"v":-1},{"x":59,"y":18,"v":1},{"x":60,"y":18,"v":-1},{"x":61,"y":18,"v":1},{"x":62,"y":18,"v":1},{"x":63,"y":18,"v":1},
{"x":1,"y":19,"v":-1},{"x":2,"y":19,"v":1},{"x":3,"y":19,"v":1},{"x":4,"y":19,"v":1},{"x":5,"y":19,"v":-1},{"x":6,"y":19,"v":-1},{"x":7,"y":19,"v":-1},{"x":8,"y":19,"v":1},{"x":9,"y":19,"v":1},{"x":10,"y":19,"v":1},{"x":11,"y":19,"v":-1},{"x":12,"y":19,"v":-1},{"x":13,"y":19,"v":-1},{"x":14,"y":19,"v":1},{"x":15,"y":19,"v":-1},{"x":16,"y":19,"v":1},{"x":17,"y":19,"v":1},{"x":18,"y":19,"v":1},{"x":19,"y":19,"v":1},{"x":20,"y":19,"v":-1},{"x":21,"y":19,"v":1},{"x":22,"y":19,"v":-1},{"x":23,"y":19,"v":1},{"x":24,"y":19,"v":1},{"x":25,"y":19,"v":1},{"x":26,"y":19,"v":1},{"x":27,"y":19,"v":1},{"x":28,"y":19,"v":1},{"x":29,"y":19,"v":1},{"x":30,"y":19,"v":1},{"x":31,"y":19,"v":-1},{"x":32,"y":19,"v":1},{"x":33,"y":19,"v":1},{"x":34,"y":19,"v":-1},{"x":35,"y":19,"v":-1},{"x":36,"y":19,"v":-1},{"x":37,"y":19,"v":1},{"x":38,"y":19,"v":1},{"x":39,"y":19,"v":1},{"x":40,"y":19,"v":1},{"x":41,"y":19,"v":1},{"x":42,"y":19,"v":1},{"x":43,"y":19,"v":1},{"x":44,"y":19,"v":1},{"x":45,"y":19,"v":1},{"x":46,"y":19,"v":-1},{"x":47,"y":19,"v":1},{"x":48,"y":19,"v":1},{"x":49,"y":19,"v":1},{"x":50,"y":19,"v":1},{"x":51,"y":19,"v":1},{"x":52,"y":19,"v":1},{"x":53,"y":19,"v":-1},{"x":54,"y":19,"v":1},{"x":55,"y":19,"v":-1},{"x":56,"y":19,"v":1},{"x":57,"y":19,"v":-1},{"x":58,"y":19,"v":-1},{"x":59,"y":19,"v":1},{"x":60,"y":19,"v":-1},{"x":61,"y":19,"v":1},{"x":62,"y":19,"v":1},{"x":63,"y":19,"v":1},
{"x":1,"y":20,"v":-1},{"x":2,"y":20,"v":-1},{"x":3,"y":20,"v":-1},{"x":4,"y":20,"v":-1},{"x":5,"y":20,"v":1},{"x":6,"y":20,"v":1},{"x":7,"y":20,"v":1},{"x":8,"y":20,"v":1},{"x":9,"y":20,"v":1},{"x":10,"y":20,"v":1},{"x":11,"y":20,"v":-1},{"x":12,"y":20,"v":-1},{"x":13,"y":20,"v":-1},{"x":14,"y":20,"v":-1},{"x":15,"y":20,"v":1},{"x":16,"y":20,"v":1},{"x":17,"y":20,"v":-1},{"x":18,"y":20,"v":1},{"x":19,"y":20,"v":1},{"x":20,"y":20,"v":-1},{"x":21,"y":20,"v":1},{"x":22,"y":20,"v":-1},{"x":23,"y":20,"v":-1},{"x":24,"y":20,"v":1},{"x":25,"y":20,"v":1},{"x":26,"y":20,"v":-1},{"x":27,"y":20,"v":1},{"x":28,"y":20,"v":1},{"x":29,"y":20,"v":1},{"x":30,"y":20,"v":1},{"x":31,"y":20,"v":1},{"x":32,"y":20,"v":1},{"x":33,"y":20,"v":-1},{"x":34,"y":20,"v":-1},{"x":35,"y":20,"v":1},{"x":36,"y":20,"v":1},{"x":37,"y":20,"v":1},{"x":38,"y":20,"v":1},{"x":39,"y":20,"v":1},{"x":40,"y":20,"v":1},{"x":41,"y":20,"v":1},{"x":42,"y":20,"v":-1},{"x":43,"y":20,"v":-1},{"x":44,"y":20,"v":1},{"x":45,"y":20,"v":1},{"x":46,"y":20,"v":-1},{"x":47,"y":20,"v":1},{"x":48,"y":20,"v":-1},{"x":49,"y":20,"v":1},{"x":50,"y":20,"v":-1},{"x":51,"y":20,"v":1},{"x":52,"y":20,"v":1},{"x":53,"y":20,"v":-1},{"x":54,"y":20,"v":1},{"x":55,"y":20,"v":-1},{"x":56,"y":20,"v":1},{"x":57,"y":20,"v":-1},{"x":58,"y":20,"v":-1},{"x":59,"y":20,"v":1},{"x":60,"y":20,"v":1},{"x":61,"y":20,"v":1},{"x":62,"y":20,"v":1},{"x":63,"y":20,"v":1},
{"x":1,"y":21,"v":-1},{"x":2,"y":21,"v":-1},{"x":3,"y":21,"v":1},{"x":4,"y":21,"v":1},{"x":5,"y":21,"v":-1},{"x":6,"y":21,"v":-1},{"x":7,"y":21,"v":1},{"x":8,"y":21,"v":1},{"x":9,"y":21,"v":1},{"x":10,"y":21,"v":1},{"x":11,"y":21,"v":1},{"x":12,"y":21,"v":-1},{"x":13,"y":21,"v":-1},{"x":14,"y":21,"v":1},{"x":15,"y":21,"v":1},{"x":16,"y":21,"v":1},{"x":17,"y":21,"v":-1},{"x":18,"y":21,"v":1},{"x":19,"y":21,"v":1},{"x":20,"y":21,"v":1},{"x":21,"y":21,"v":1},{"x":22,"y":21,"v":1},{"x":23,"y":21,"v":1},{"x":24,"y":21,"v":-1},{"x":25,"y":21,"v":1},{"x":26,"y":21,"v":-1},{"x":27,"y":21,"v":1},{"x":28,"y":21,"v":1},{"x":29,"y":21,"v":1},{"x":30,"y":21,"v":1},{"x":31,"y":21,"v":-1},{"x":32,"y":21,"v":1},{"x":33,"y":21,"v":1},{"x":34,"y":21,"v":-1},{"x":35,"y":21,"v":1},{"x":36,"y":21,"v":-1},{"x":37,"y":21,"v":1},{"x":38,"y":21,"v":1},{"x":39,"y":21,"v":1},{"x":40,"y":21,"v":1},{"x":41,"y":21,"v":1},{"x":42,"y":21,"v":1},{"x":43,"y":21,"v":-1},{"x":44,"y":21,"v":1},{"x":45,"y":21,"v":1},{"x":46,"y":21,"v":1},{"x":47,"y":21,"v":1},{"x":48,"y":21,"v":1},{"x":49,"y":21,"v":1},{"x":50,"y":21,"v":1},{"x":51,"y":21,"v":1},{"x":52,"y":21,"v":1},{"x":53,"y":21,"v":1},{"x":54,"y":21,"v":1},{"x":55,"y":21,"v":1},{"x":56,"y":21,"v":1},{"x":57,"y":21,"v":-1},{"x":58,"y":21,"v":-1},{"x":59,"y":21,"v":1},{"x":60,"y":21,"v":1},{"x":61,"y":21,"v":1},{"x":62,"y":21,"v":1},{"x":63,"y":21,"v":1},
{"x":1,"y":22,"v":-1},{"x":2,"y":22,"v":-1},{"x":3,"y":22,"v":-1},{"x":4,"y":22,"v":1},{"x":5,"y":22,"v":-1},{"x":6,"y":22,"v":-1},{"x":7,"y":22,"v":-1},{"x":8,"y":22,"v":1},{"x":9,"y":22,"v":1},{"x":10,"y":22,"v":1},{"x":11,"y":22,"v":1},{"x":12,"y":22,"v":-1},{"x":13,"y":22,"v":-1},{"x":14,"y":22,"v":1},{"x":15,"y":22,"v":1},{"x":16,"y":22,"v":-1},{"x":17,"y":22,"v":-1},{"x":18,"y":22,"v":1},{"x":19,"y":22,"v":1},{"x":20,"y":22,"v":-1},{"x":21,"y":22,"v":1},{"x":22,"y":22,"v":1},{"x":23,"y":22,"v":1},{"x":24,"y":22,"v":1},{"x":25,"y":22,"v":1},{"x":26,"y":22,"v":1},{"x":27,"y":22,"v":1},{"x":28,"y":22,"v":1},{"x":29,"y":22,"v":1},{"x":30,"y":22,"v":-1},{"x":31,"y":22,"v":1},{"x":32,"y":22,"v":1},{"x":33,"y":22,"v":-1},{"x":34,"y":22,"v":1},{"x":35,"y":22,"v":-1},{"x":36,"y":22,"v":-1},{"x":37,"y":22,"v":1},{"x":38,"y":22,"v":1},{"x":39,"y":22,"v":1},{"x":40,"y":22,"v":1},{"x":41,"y":22,"v":1},{"x":42,"y":22,"v":-1},{"x":43,"y":22,"v":-1},{"x":44,"y":22,"v":1},{"x":45,"y":22,"v":1},{"x":46,"y":22,"v":1},{"x":47,"y":22,"v":1},{"x":48,"y":22,"v":1},{"x":49,"y":22,"v":1},{"x":50,"y":22,"v":1},{"x":51,"y":22,"v":1},{"x":52,"y":22,"v":1},{"x":53,"y":22,"v":1},{"x":54,"y":22,"v":1},{"x":55,"y":22,"v":-1},{"x":56,"y":22,"v":1},{"x":57,"y":22,"v":1},{"x":58,"y":22,"v":-1},{"x":59,"y":22,"v":1},{"x":60,"y":22,"v":1},{"x":61,"y":22,"v":1},{"x":62,"y":22,"v":1},{"x":63,"y":22,"v":1},
{"x":1,"y":23,"v":-1},{"x":2,"y":23,"v":-1},{"x":3,"y":23,"v":1},{"x":4,"y":23,"v":1},{"x":5,"y":23,"v":1},{"x":6,"y":23,"v":-1},{"x":7,"y":23,"v":1},{"x":8,"y":23,"v":-1},{"x":9,"y":23,"v":1},{"x":10,"y":23,"v":1},{"x":11,"y":23,"v":-1},{"x":12,"y":23,"v":-1},{"x":13,"y":23,"v":-1},{"x":14,"y":23,"v":1},{"x":15,"y":23,"v":1},{"x":16,"y":23,"v":1},{"x":17,"y":23,"v":1},{"x":18,"y":23,"v":1},{"x":19,"y":23,"v":1},{"x":20,"y":23,"v":-1},{"x":21,"y":23,"v":1},{"x":22,"y":23,"v":-1},{"x":23,"y":23,"v":1},{"x":24,"y":23,"v":1},{"x":25,"y":23,"v":1},{"x":26,"y":23,"v":1},{"x":27,"y":23,"v":1},{"x":28,"y":23,"v":1},{"x":29,"y":23,"v":1},{"x":30,"y":23,"v":1},{"x":31,"y":23,"v":1},{"x":32,"y":23,"v":1},{"x":33,"y":23,"v":1},{"x":34,"y":23,"v":-1},{"x":35,"y":23,"v":-1},{"x":36,"y":23,"v":-1},{"x":37,"y":23,"v":1},{"x":38,"y":23,"v":1},{"x":39,"y":23,"v":1},{"x":40,"y":23,"v":1},{"x":41,"y":23,"v":1},{"x":42,"y":23,"v":1},{"x":43,"y":23,"v":1},{"x":44,"y":23,"v":1},{"x":45,"y":23,"v":-1},{"x":46,"y":23,"v":-1},{"x":47,"y":23,"v":-1},{"x":48,"y":23,"v":1},{"x":49,"y":23,"v":1},{"x":50,"y":23,"v":1},{"x":51,"y":23,"v":1},{"x":52,"y":23,"v":1},{"x":53,"y":23,"v":1},{"x":54,"y":23,"v":1},{"x":55,"y":23,"v":-1},{"x":56,"y":23,"v":1},{"x":57,"y":23,"v":-1},{"x":58,"y":23,"v":1},{"x":59,"y":23,"v":1},{"x":60,"y":23,"v":1},{"x":61,"y":23,"v":1},{"x":62,"y":23,"v":1},{"x":63,"y":23,"v":1},
{"x":1,"y":24,"v":-1},{"x":2,"y":24,"v":1},{"x":3,"y":24,"v":1},{"x":4,"y":24,"v":1},{"x":5,"y":24,"v":-1},{"x":6,"y":24,"v":1},{"x":7,"y":24,"v":-1},{"x":8,"y":24,"v":-1},{"x":9,"y":24,"v":1},{"x":10,"y":24,"v":1},{"x":11,"y":24,"v":-1},{"x":12,"y":24,"v":-1},{"x":13,"y":24,"v":-1},{"x":14,"y":24,"v":1},{"x":15,"y":24,"v":1},{"x":16,"y":24,"v":1},{"x":17,"y":24,"v":-1},{"x":18,"y":24,"v":-9},{"x":19,"y":24,"v":1},{"x":20,"y":24,"v":1},{"x":21,"y":24,"v":-1},{"x":22,"y":24,"v":1},{"x":23,"y":24,"v":-1},{"x":24,"y":24,"v":-1},{"x":25,"y":24,"v":1},{"x":26,"y":24,"v":-1},{"x":27,"y":24,"v":1},{"x":28,"y":24,"v":1},{"x":29,"y":24,"v":1},{"x":30,"y":24,"v":1},{"x":31,"y":24,"v":-1},{"x":32,"y":24,"v":1},{"x":33,"y":24,"v":1},{"x":34,"y":24,"v":1},{"x":35,"y":24,"v":-1},{"x":36,"y":24,"v":-1},{"x":37,"y":24,"v":1},{"x":38,"y":24,"v":1},{"x":39,"y":24,"v":1},{"x":40,"y":24,"v":1},{"x":41,"y":24,"v":1},{"x":42,"y":24,"v":1},{"x":43,"y":24,"v":1},{"x":44,"y":24,"v":1},{"x":45,"y":24,"v":1},{"x":46,"y":24,"v":-1},{"x":47,"y":24,"v":1},{"x":48,"y":24,"v":-1},{"x":49,"y":24,"v":1},{"x":50,"y":24,"v":1},{"x":51,"y":24,"v":1},{"x":52,"y":24,"v":1},{"x":53,"y":24,"v":-1},{"x":54,"y":24,"v":1},{"x":55,"y":24,"v":-1},{"x":56,"y":24,"v":1},{"x":57,"y":24,"v":1},{"x":58,"y":24,"v":-1},{"x":59,"y":24,"v":1},{"x":60,"y":24,"v":1},{"x":61,"y":24,"v":1},{"x":62,"y":24,"v":1},{"x":63,"y":24,"v":-1},
{"x":1,"y":25,"v":1},{"x":2,"y":25,"v":-1},{"x":3,"y":25,"v":-1},{"x":4,"y":25,"v":-1},{"x":5,"y":25,"v":-1},{"x":6,"y":25,"v":-1},{"x":7,"y":25,"v":1},{"x":8,"y":25,"v":1},{"x":9,"y":25,"v":1},{"x":10,"y":25,"v":1},{"x":11,"y":25,"v":-1},{"x":12,"y":25,"v":-1},{"x":13,"y":25,"v":-1},{"x":14,"y":25,"v":-1},{"x":15,"y":25,"v":-1},{"x":16,"y":25,"v":1},{"x":17,"y":25,"v":1},{"x":18,"y":25,"v":-1},{"x":19,"y":25,"v":1},{"x":20,"y":25,"v":1},{"x":21,"y":25,"v":-1},{"x":22,"y":25,"v":1},{"x":23,"y":25,"v":-1},{"x":24,"y":25,"v":1},{"x":25,"y":25,"v":-1},{"x":26,"y":25,"v":1},{"x":27,"y":25,"v":1},{"x":28,"y":25,"v":1},{"x":29,"y":25,"v":1},{"x":30,"y":25,"v":-1},{"x":31,"y":25,"v":-1},{"x":32,"y":25,"v":1},{"x":33,"y":25,"v":-1},{"x":34,"y":25,"v":1},{"x":35,"y":25,"v":1},{"x":36,"y":25,"v":-1},{"x":37,"y":25,"v":-1},{"x":38,"y":25,"v":1},{"x":39,"y":25,"v":1},{"x":40,"y":25,"v":1},{"x":41,"y":25,"v":-1},{"x":42,"y":25,"v":1},{"x":43,"y":25,"v":1},{"x":44,"y":25,"v":1},{"x":45,"y":25,"v":-1},{"x":46,"y":25,"v":-1},{"x":47,"y":25,"v":1},{"x":48,"y":25,"v":-1},{"x":49,"y":25,"v":-1},{"x":50,"y":25,"v":-1},{"x":51,"y":25,"v":1},{"x":52,"y":25,"v":1},{"x":53,"y":25,"v":-1},{"x":54,"y":25,"v":1},{"x":55,"y":25,"v":-1},{"x":56,"y":25,"v":1},{"x":57,"y":25,"v":1},{"x":58,"y":25,"v":-1},{"x":59,"y":25,"v":1},{"x":60,"y":25,"v":1},{"x":61,"y":25,"v":1},{"x":62,"y":25,"v":1},{"x":63,"y":25,"v":-1},
{"x":1,"y":26,"v":-1},{"x":2,"y":26,"v":-1},{"x":3,"y":26,"v":-1},{"x":4,"y":26,"v":1},{"x":5,"y":26,"v":-1},{"x":6,"y":26,"v":-1},{"x":7,"y":26,"v":1},{"x":8,"y":26,"v":1},{"x":9,"y":26,"v":1},{"x":10,"y":26,"v":1},{"x":11,"y":26,"v":-1},{"x":12,"y":26,"v":-1},{"x":13,"y":26,"v":-1},{"x":14,"y":26,"v":1},{"x":15,"y":26,"v":-1},{"x":16,"y":26,"v":1},{"x":17,"y":26,"v":-1},{"x":18,"y":26,"v":-1},{"x":19,"y":26,"v":1},{"x":20,"y":26,"v":1},{"x":21,"y":26,"v":1},{"x":22,"y":26,"v":1},{"x":23,"y":26,"v":1},{"x":24,"y":26,"v":1},{"x":25,"y":26,"v":-1},{"x":26,"y":26,"v":1},{"x":27,"y":26,"v":1},{"x":28,"y":26,"v":-1},{"x":29,"y":26,"v":-1},{"x":30,"y":26,"v":-1},{"x":31,"y":26,"v":-1},{"x":32,"y":26,"v":1},{"x":33,"y":26,"v":1},{"x":34,"y":26,"v":-1},{"x":35,"y":26,"v":-1},{"x":36,"y":26,"v":-1},{"x":37,"y":26,"v":1},{"x":38,"y":26,"v":1},{"x":39,"y":26,"v":1},{"x":40,"y":26,"v":1},{"x":41,"y":26,"v":1},{"x":42,"y":26,"v":1},{"x":43,"y":26,"v":1},{"x":44,"y":26,"v":1},{"x":45,"y":26,"v":-1},{"x":46,"y":26,"v":-1},{"x":47,"y":26,"v":1},{"x":48,"y":26,"v":-1},{"x":49,"y":26,"v":-1},{"x":50,"y":26,"v":-1},{"x":51,"y":26,"v":1},{"x":52,"y":26,"v":1},{"x":53,"y":26,"v":-1},{"x":54,"y":26,"v":1},{"x":55,"y":26,"v":1},{"x":56,"y":26,"v":1},{"x":57,"y":26,"v":-1},{"x":58,"y":26,"v":-1},{"x":59,"y":26,"v":1},{"x":60,"y":26,"v":-1},{"x":61,"y":26,"v":1},{"x":62,"y":26,"v":-1},{"x":63,"y":26,"v":-1},
{"x":1,"y":27,"v":-1},{"x":2,"y":27,"v":-1},{"x":3,"y":27,"v":-1},{"x":4,"y":27,"v":1},{"x":5,"y":27,"v":-1},{"x":6,"y":27,"v":-1},{"x":7,"y":27,"v":1},{"x":8,"y":27,"v":1},{"x":9,"y":27,"v":1},{"x":10,"y":27,"v":1},{"x":11,"y":27,"v":-1},{"x":12,"y":27,"v":-1},{"x":13,"y":27,"v":-1},{"x":14,"y":27,"v":1},{"x":15,"y":27,"v":-1},{"x":16,"y":27,"v":-1},{"x":17,"y":27,"v":-1},{"x":18,"y":27,"v":-1},{"x":19,"y":27,"v":-1},{"x":20,"y":27,"v":-1},{"x":21,"y":27,"v":1},{"x":22,"y":27,"v":1},{"x":23,"y":27,"v":1},{"x":24,"y":27,"v":-1},{"x":25,"y":27,"v":-1},{"x":26,"y":27,"v":1},{"x":27,"y":27,"v":1},{"x":28,"y":27,"v":-1},{"x":29,"y":27,"v":-1},{"x":30,"y":27,"v":-1},{"x":31,"y":27,"v":-1},{"x":32,"y":27,"v":1},{"x":33,"y":27,"v":1},{"x":34,"y":27,"v":-1},{"x":35,"y":27,"v":1},{"x":36,"y":27,"v":1},{"x":37,"y":27,"v":1},{"x":38,"y":27,"v":-1},{"x":39,"y":27,"v":1},{"x":40,"y":27,"v":1},{"x":41,"y":27,"v":1},{"x":42,"y":27,"v":-1},{"x":43,"y":27,"v":-1},{"x":44,"y":27,"v":-1},{"x":45,"y":27,"v":-1},{"x":46,"y":27,"v":-1},{"x":47,"y":27,"v":1},{"x":48,"y":27,"v":-1},{"x":49,"y":27,"v":-1},{"x":50,"y":27,"v":-1},{"x":51,"y":27,"v":1},{"x":52,"y":27,"v":1},{"x":53,"y":27,"v":-1},{"x":54,"y":27,"v":1},{"x":55,"y":27,"v":1},{"x":56,"y":27,"v":1},{"x":57,"y":27,"v":-1},{"x":58,"y":27,"v":-1},{"x":59,"y":27,"v":1},{"x":60,"y":27,"v":-1},{"x":61,"y":27,"v":1},{"x":62,"y":27,"v":1},{"x":63,"y":27,"v":-1},
{"x":1,"y":28,"v":-1},{"x":2,"y":28,"v":-1},{"x":3,"y":28,"v":-1},{"x":4,"y":28,"v":-1},{"x":5,"y":28,"v":-1},{"x":6,"y":28,"v":-1},{"x":7,"y":28,"v":-1},{"x":8,"y":28,"v":1},{"x":9,"y":28,"v":1},{"x":10,"y":28,"v":1},{"x":11,"y":28,"v":-1},{"x":12,"y":28,"v":-1},{"x":13,"y":28,"v":-1},{"x":14,"y":28,"v":1},{"x":15,"y":28,"v":1},{"x":16,"y":28,"v":-1},{"x":17,"y":28,"v":-1},{"x":18,"y":28,"v":-1},{"x":19,"y":28,"v":-1},{"x":20,"y":28,"v":-1},{"x":21,"y":28,"v":1},{"x":22,"y":28,"v":-1},{"x":23,"y":28,"v":1},{"x":24,"y":28,"v":-1},{"x":25,"y":28,"v":-1},{"x":26,"y":28,"v":1},{"x":27,"y":28,"v":1},{"x":28,"y":28,"v":-1},{"x":29,"y":28,"v":-1},{"x":30,"y":28,"v":1},{"x":31,"y":28,"v":1},{"x":32,"y":28,"v":-1},{"x":33,"y":28,"v":1},{"x":34,"y":28,"v":1},{"x":35,"y":28,"v":1},{"x":36,"y":28,"v":1},{"x":37,"y":28,"v":1},{"x":38,"y":28,"v":-1},{"x":39,"y":28,"v":1},{"x":40,"y":28,"v":1},{"x":41,"y":28,"v":1},{"x":42,"y":28,"v":-1},{"x":43,"y":28,"v":-1},{"x":44,"y":28,"v":-1},{"x":45,"y":28,"v":-1},{"x":46,"y":28,"v":-1},{"x":47,"y":28,"v":1},{"x":48,"y":28,"v":-1},{"x":49,"y":28,"v":-1},{"x":50,"y":28,"v":-1},{"x":51,"y":28,"v":1},{"x":52,"y":28,"v":1},{"x":53,"y":28,"v":-1},{"x":54,"y":28,"v":-1},{"x":55,"y":28,"v":-1},{"x":56,"y":28,"v":-1},{"x":57,"y":28,"v":-1},{"x":58,"y":28,"v":-1},{"x":59,"y":28,"v":1},{"x":60,"y":28,"v":-1},{"x":61,"y":28,"v":1},{"x":62,"y":28,"v":1},{"x":63,"y":28,"v":-1},
{"x":1,"y":29,"v":-1},{"x":2,"y":29,"v":-1},{"x":3,"y":29,"v":1},{"x":4,"y":29,"v":1},{"x":5,"y":29,"v":-1},{"x":6,"y":29,"v":-1},{"x":7,"y":29,"v":-1},{"x":8,"y":29,"v":1},{"x":9,"y":29,"v":1},{"x":10,"y":29,"v":1},{"x":11,"y":29,"v":-1},{"x":12,"y":29,"v":-1},{"x":13,"y":29,"v":-1},{"x":14,"y":29,"v":1},{"x":15,"y":29,"v":1},{"x":16,"y":29,"v":-1},{"x":17,"y":29,"v":-1},{"x":18,"y":29,"v":1},{"x":19,"y":29,"v":1},{"x":20,"y":29,"v":1},{"x":21,"y":29,"v":1},{"x":22,"y":29,"v":-1},{"x":23,"y":29,"v":1},{"x":24,"y":29,"v":-1},{"x":25,"y":29,"v":-1},{"x":26,"y":29,"v":-1},{"x":27,"y":29,"v":-1},{"x":28,"y":29,"v":-1},{"x":29,"y":29,"v":-1},{"x":30,"y":29,"v":1},{"x":31,"y":29,"v":1},{"x":32,"y":29,"v":-1},{"x":33,"y":29,"v":-1},{"x":34,"y":29,"v":1},{"x":35,"y":29,"v":1},{"x":36,"y":29,"v":-1},{"x":37,"y":29,"v":1},{"x":38,"y":29,"v":-1},{"x":39,"y":29,"v":1},{"x":40,"y":29,"v":1},{"x":41,"y":29,"v":1},{"x":42,"y":29,"v":-1},{"x":43,"y":29,"v":-1},{"x":44,"y":29,"v":-1},{"x":45,"y":29,"v":1},{"x":46,"y":29,"v":-1},{"x":47,"y":29,"v":1},{"x":48,"y":29,"v":-1},{"x":49,"y":29,"v":-1},{"x":50,"y":29,"v":-1},{"x":51,"y":29,"v":-1},{"x":52,"y":29,"v":-1},{"x":53,"y":29,"v":-1},{"x":54,"y":29,"v":1},{"x":55,"y":29,"v":-1},{"x":56,"y":29,"v":1},{"x":57,"y":29,"v":1},{"x":58,"y":29,"v":1},{"x":59,"y":29,"v":1},{"x":60,"y":29,"v":-1},{"x":61,"y":29,"v":1},{"x":62,"y":29,"v":1},{"x":63,"y":29,"v":-1},
{"x":1,"y":30,"v":-1},{"x":2,"y":30,"v":-1},{"x":3,"y":30,"v":1},{"x":4,"y":30,"v":1},{"x":5,"y":30,"v":-1},{"x":6,"y":30,"v":1},{"x":7,"y":30,"v":1},{"x":8,"y":30,"v":1},{"x":9,"y":30,"v":1},{"x":10,"y":30,"v":1},{"x":11,"y":30,"v":-1},{"x":12,"y":30,"v":-1},{"x":13,"y":30,"v":-1},{"x":14,"y":30,"v":-1},{"x":15,"y":30,"v":1},{"x":16,"y":30,"v":-1},{"x":17,"y":30,"v":-1},{"x":18,"y":30,"v":1},{"x":19,"y":30,"v":1},{"x":20,"y":30,"v":1},{"x":21,"y":30,"v":1},{"x":22,"y":30,"v":-1},{"x":23,"y":30,"v":1},{"x":24,"y":30,"v":-1},{"x":25,"y":30,"v":-1},{"x":26,"y":30,"v":-1},{"x":27,"y":30,"v":-1},{"x":28,"y":30,"v":1},{"x":29,"y":30,"v":1},{"x":30,"y":30,"v":1},{"x":31,"y":30,"v":1},{"x":32,"y":30,"v":1},{"x":33,"y":30,"v":1},{"x":34,"y":30,"v":-1},{"x":35,"y":30,"v":-1},{"x":36,"y":30,"v":-1},{"x":37,"y":30,"v":1},{"x":38,"y":30,"v":-1},{"x":39,"y":30,"v":1},{"x":40,"y":30,"v":1},{"x":41,"y":30,"v":1},{"x":42,"y":30,"v":1},{"x":43,"y":30,"v":1},{"x":44,"y":30,"v":1},{"x":45,"y":30,"v":1},{"x":46,"y":30,"v":-1},{"x":47,"y":30,"v":1},{"x":48,"y":30,"v":1},{"x":49,"y":30,"v":1},{"x":50,"y":30,"v":-1},{"x":51,"y":30,"v":-1},{"x":52,"y":30,"v":-1},{"x":53,"y":30,"v":-1},{"x":54,"y":30,"v":1},{"x":55,"y":30,"v":-1},{"x":56,"y":30,"v":1},{"x":57,"y":30,"v":1},{"x":58,"y":30,"v":-1},{"x":59,"y":30,"v":1},{"x":60,"y":30,"v":-1},{"x":61,"y":30,"v":1},{"x":62,"y":30,"v":1},{"x":63,"y":30,"v":-1},
{"x":1,"y":31,"v":-1},{"x":2,"y":31,"v":-1},{"x":3,"y":31,"v":-1},{"x":4,"y":31,"v":1},{"x":5,"y":31,"v":-1},{"x":6,"y":31,"v":1},{"x":7,"y":31,"v":1},{"x":8,"y":31,"v":1},{"x":9,"y":31,"v":1},{"x":10,"y":31,"v":1},{"x":11,"y":31,"v":-1},{"x":12,"y":31,"v":-1},{"x":13,"y":31,"v":-1},{"x":14,"y":31,"v":-1},{"x":15,"y":31,"v":1},{"x":16,"y":31,"v":-1},{"x":17,"y":31,"v":-1},{"x":18,"y":31,"v":1},{"x":19,"y":31,"v":1},{"x":20,"y":31,"v":1},{"x":21,"y":31,"v":1},{"x":22,"y":31,"v":1},{"x":23,"y":31,"v":1},{"x":24,"y":31,"v":1},{"x":25,"y":31,"v":1},{"x":26,"y":31,"v":-1},{"x":27,"y":31,"v":-1},{"x":28,"y":31,"v":1},{"x":29,"y":31,"v":1},{"x":30,"y":31,"v":1},{"x":31,"y":31,"v":1},{"x":32,"y":31,"v":1},{"x":33,"y":31,"v":-1},{"x":34,"y":31,"v":-1},{"x":35,"y":31,"v":-1},{"x":36,"y":31,"v":-1},{"x":37,"y":31,"v":1},{"x":38,"y":31,"v":-1},{"x":39,"y":31,"v":-1},{"x":40,"y":31,"v":-1},{"x":41,"y":31,"v":-1},{"x":42,"y":31,"v":-1},{"x":43,"y":31,"v":1},{"x":44,"y":31,"v":1},{"x":45,"y":31,"v":-1},{"x":46,"y":31,"v":1},{"x":47,"y":31,"v":1},{"x":48,"y":31,"v":1},{"x":49,"y":31,"v":1},{"x":50,"y":31,"v":1},{"x":51,"y":31,"v":1},{"x":52,"y":31,"v":-1},{"x":53,"y":31,"v":-1},{"x":54,"y":31,"v":-1},{"x":55,"y":31,"v":-1},{"x":56,"y":31,"v":-1},{"x":57,"y":31,"v":-1},{"x":58,"y":31,"v":-1},{"x":59,"y":31,"v":1},{"x":60,"y":31,"v":-1},{"x":61,"y":31,"v":1},{"x":62,"y":31,"v":1},{"x":63,"y":31,"v":-1},
{"x":1,"y":32,"v":-1},{"x":2,"y":32,"v":-1},{"x":3,"y":32,"v":-1},{"x":4,"y":32,"v":-1},{"x":5,"y":32,"v":-1},{"x":6,"y":32,"v":-1},{"x":7,"y":32,"v":1},{"x":8,"y":32,"v":-1},{"x":9,"y":32,"v":1},{"x":10,"y":32,"v":-1},{"x":11,"y":32,"v":-1},{"x":12,"y":32,"v":-1},{"x":13,"y":32,"v":-1},{"x":14,"y":32,"v":1},{"x":15,"y":32,"v":-1},{"x":16,"y":32,"v":-1},{"x":17,"y":32,"v":-1},{"x":18,"y":32,"v":1},{"x":19,"y":32,"v":1},{"x":20,"y":32,"v":1},{"x":21,"y":32,"v":1},{"x":22,"y":32,"v":-1},{"x":23,"y":32,"v":-1},{"x":24,"y":32,"v":-1},{"x":25,"y":32,"v":1},{"x":26,"y":32,"v":-1},{"x":27,"y":32,"v":1},{"x":28,"y":32,"v":-1},{"x":29,"y":32,"v":1},{"x":30,"y":32,"v":-1},{"x":31,"y":32,"v":-1},{"x":32,"y":32,"v":-1},{"x":33,"y":32,"v":-1},{"x":34,"y":32,"v":-1},{"x":35,"y":32,"v":-1},{"x":36,"y":32,"v":-1},{"x":37,"y":32,"v":1},{"x":38,"y":32,"v":1},{"x":39,"y":32,"v":1},{"x":40,"y":32,"v":1},{"x":41,"y":32,"v":-1},{"x":42,"y":32,"v":-1},{"x":43,"y":32,"v":-1},{"x":44,"y":32,"v":1},{"x":45,"y":32,"v":-1},{"x":46,"y":32,"v":-1},{"x":47,"y":32,"v":1},{"x":48,"y":32,"v":-1},{"x":49,"y":32,"v":-1},{"x":50,"y":32,"v":-1},{"x":51,"y":32,"v":1},{"x":52,"y":32,"v":1},{"x":53,"y":32,"v":-1},{"x":54,"y":32,"v":-1},{"x":55,"y":32,"v":-1},{"x":56,"y":32,"v":-1},{"x":57,"y":32,"v":-1},{"x":58,"y":32,"v":-1},{"x":59,"y":32,"v":1},{"x":60,"y":32,"v":-1},{"x":61,"y":32,"v":-1},{"x":62,"y":32,"v":-1},{"x":63,"y":32,"v":1}
]
},
"spacing": 8,
"hconcat": [
{
"width": 383, "height": 354,
"data": {"name": "cells"},
"layer": [
{
"mark": {"type": "rect", "strokeWidth": 0.6},
"encoding": {
"x": {"field": "x", "type": "ordinal", "scale": {"paddingInner": 0, "paddingOuter": 0}, "axis": {"orient": "bottom", "values": [10,20,30,40,50,60], "labelAngle": 0, "title": "TRM Position", "titlePadding": 2}},
"y": {"field": "y", "type": "ordinal", "scale": {"paddingInner": 0, "paddingOuter": 0}, "axis": {"orient": "left", "values": [5,10,15,20,25,30], "title": "TRM Phase state"}},
"color": {"field": "v", "type": "quantitative", "scale": {"type": "threshold", "domain": [-8,-6,-4,-2,0,2,4,6,8], "range": ["#0000AA","#0000FF","#0055FF","#00AAFF","#00FFFF","#55FFAA","#AAFF55","#FFFF00","#FFAA00","#FF5500"]}, "legend": null},
"stroke": {"field": "v", "type": "quantitative", "scale": {"type": "threshold", "domain": [-8,-6,-4,-2,0,2,4,6,8], "range": ["#0000AA","#0000FF","#0055FF","#00AAFF","#00FFFF","#55FFAA","#AAFF55","#FFFF00","#FFAA00","#FF5500"]}, "legend": null}
}
},
{
"mark": {"type": "rect", "opacity": 0},
"encoding": {
"x": {"field": "x", "type": "ordinal", "axis": {"orient": "top", "values": [10,20,30,40,50,60], "labels": false, "title": null}},
"y": {"field": "y", "type": "ordinal", "axis": {"orient": "right", "values": [5,10,15,20,25,30], "labels": false, "title": null}}
}
}
],
"resolve": {"axis": {"x": "independent", "y": "independent"}}
},
{
"width": 21, "height": 336,
"data": {"name": "bar"},
"mark": {"type": "rect"},
"encoding": {
"y": {"field": "lo", "type": "quantitative", "scale": {"domain": [-10, 10], "nice": false}, "axis": {"orient": "right", "values": [-10,-8,-6,-4,-2,0,2,4,6,8,10], "title": null, "tickSize": -3, "labelPadding": 5, "labelColor": "#404040", "labelFontSize": 8.5}},
"y2": {"field": "hi"},
"color": {"field": "v", "type": "quantitative", "scale": {"type": "threshold", "domain": [-8,-6,-4,-2,0,2,4,6,8], "range": ["#0000AA","#0000FF","#0055FF","#00AAFF","#00FFFF","#55FFAA","#AAFF55","#FFFF00","#FFAA00","#FF5500"]}, "legend": null}
}
}
],
"config": {
"view": {"stroke": "#262626", "strokeWidth": 1},
"font": "Liberation Sans",
"axis": {"grid": false, "labelFont": "Liberation Sans", "labelFontSize": 9, "labelColor": "#262626", "titleFont": "Liberation Sans", "titleFontSize": 15, "titleFontWeight": "normal", "titleColor": "#262626", "tickColor": "#262626", "tickSize": -4, "domainColor": "#262626", "labelPadding": 9, "titlePadding": 4}
}
}
